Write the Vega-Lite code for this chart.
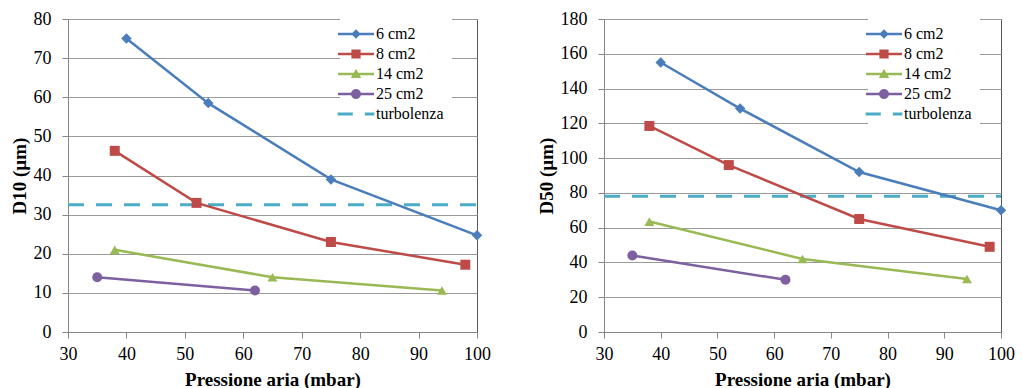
{
  "$schema": "https://vega.github.io/schema/vega-lite/v6.json",
  "background": "white",
  "padding": {"left": 9, "top": 9, "right": 5, "bottom": 0},
  "spacing": 45,
  "datasets": {
    "d10": [
      {"p": 40, "v": 75, "series": "6 cm2"},
      {"p": 54, "v": 58.5, "series": "6 cm2"},
      {"p": 75, "v": 39, "series": "6 cm2"},
      {"p": 100, "v": 24.7, "series": "6 cm2"},
      {"p": 38, "v": 46.3, "series": "8 cm2"},
      {"p": 52, "v": 33, "series": "8 cm2"},
      {"p": 75, "v": 23, "series": "8 cm2"},
      {"p": 98, "v": 17.2, "series": "8 cm2"},
      {"p": 38, "v": 21, "series": "14 cm2"},
      {"p": 65, "v": 14, "series": "14 cm2"},
      {"p": 94, "v": 10.6, "series": "14 cm2"},
      {"p": 35, "v": 14, "series": "25 cm2"},
      {"p": 62, "v": 10.6, "series": "25 cm2"}
    ],
    "d10t": [{"p": 30, "v": 32.5, "series": "turbolenza"}, {"p": 100, "v": 32.5, "series": "turbolenza"}],
    "d50": [
      {"p": 40, "v": 155, "series": "6 cm2"},
      {"p": 54, "v": 128.5, "series": "6 cm2"},
      {"p": 75, "v": 92, "series": "6 cm2"},
      {"p": 100, "v": 70, "series": "6 cm2"},
      {"p": 38, "v": 118.5, "series": "8 cm2"},
      {"p": 52, "v": 96, "series": "8 cm2"},
      {"p": 75, "v": 65, "series": "8 cm2"},
      {"p": 98, "v": 49, "series": "8 cm2"},
      {"p": 38, "v": 63.5, "series": "14 cm2"},
      {"p": 65, "v": 42, "series": "14 cm2"},
      {"p": 94, "v": 30.5, "series": "14 cm2"},
      {"p": 35, "v": 44, "series": "25 cm2"},
      {"p": 62, "v": 30, "series": "25 cm2"}
    ],
    "d50t": [{"p": 30, "v": 78, "series": "turbolenza"}, {"p": 100, "v": 78, "series": "turbolenza"}]
  },
  "config": {
    "font": "Liberation Serif",
    "view": {"stroke": "#595959", "strokeWidth": 1},
    "axis": {
      "labelFont": "Liberation Serif",
      "labelFontSize": 18,
      "labelColor": "#000000",
      "labelOverlap": false,
      "titleFont": "Liberation Serif",
      "titleFontSize": 19,
      "titleFontWeight": "bold",
      "titleColor": "#000000",
      "domainColor": "#868686",
      "tickColor": "#868686",
      "tickSize": 6,
      "gridColor": "#9a9a9a",
      "gridWidth": 1
    },
    "axisX": {"labelPadding": 7, "titlePadding": 7, "labelFlush": false},
    "axisY": {"labelPadding": 11, "titlePadding": 4},
    "legend": {
      "title": null,
      "orient": "none",
      "labelFont": "Liberation Serif",
      "labelFontSize": 16,
      "labelColor": "#000000",
      "symbolSize": 64,
      "symbolOpacity": 1,
      "labelOffset": 12,
      "rowPadding": 4,
      "padding": 8,
      "fillColor": "white",
      "symbolStrokeWidth": 0
    }
  },
  "resolve": {
    "scale": {"color": "independent", "shape": "independent"},
    "legend": {"color": "independent", "shape": "independent"}
  },
  "hconcat": [
    {
      "width": 409,
      "height": 313,
      "encoding": {
        "x": {"field": "p", "type": "quantitative", "scale": {"domain": [30, 100], "nice": false}, "axis": {"values": [30, 40, 50, 60, 70, 80, 90, 100], "title": "Pressione aria (mbar)", "grid": false}},
        "y": {"field": "v", "type": "quantitative", "scale": {"domain": [0, 80], "nice": false}, "axis": {"values": [0, 10, 20, 30, 40, 50, 60, 70, 80], "title": "D10 (µm)", "grid": true}}
      },
      "layer": [
        {
          "data": {"name": "d10"},
          "transform": [{"filter": "datum.p < 0"}],
          "mark": {"type": "point", "filled": true, "opacity": 1, "size": 64},
          "encoding": {
            "color": {"field": "series", "type": "nominal", "scale": {"domain": ["6 cm2", "8 cm2", "14 cm2", "25 cm2", "turbolenza"], "range": ["#4A7EBB", "#BE4B48", "#98B954", "#7D60A0", "#4BACC6"]}, "legend": {"legendX": 272, "legendY": -1}},
            "shape": {"field": "series", "type": "nominal", "scale": {"domain": ["6 cm2", "8 cm2", "14 cm2", "25 cm2", "turbolenza"], "range": ["M-4.5,-0.3H4.5V0.3H-4.5Z M0,-1.2L1.2,0L0,1.2L-1.2,0Z", "M-4.5,-0.3H4.5V0.3H-4.5Z M-1.15,-1.15H1.15V1.15H-1.15Z", "M-4.5,-0.3H4.5V0.3H-4.5Z M0,-1.3L1.3,1H-1.3Z", "M-4.5,-0.3H4.5V0.3H-4.5Z M1.25,0A1.25,1.25,0,1,1,-1.25,0A1.25,1.25,0,1,1,1.25,0Z", "M-4.6,-0.35H-0.8V0.35H-4.6Z M2.2,-0.35H4.6V0.35H2.2Z"]}, "legend": {"legendX": 272, "legendY": -1}}
          }
        },
        {"data": {"name": "d10t"}, "mark": {"type": "line", "strokeWidth": 3, "strokeDash": [16, 12]},
         "encoding": {"color": {"field": "series", "type": "nominal", "legend": null}}},
        {"data": {"name": "d10"}, "mark": {"type": "line", "strokeWidth": 2.5},
         "encoding": {"color": {"field": "series", "type": "nominal", "legend": null}}},
        {"data": {"name": "d10"}, "transform": [{"filter": "datum.series === '6 cm2'"}], "mark": {"type": "point", "shape": "diamond", "filled": true, "opacity": 1, "size": 110},
         "encoding": {"color": {"field": "series", "type": "nominal", "legend": null}}},
        {"data": {"name": "d10"}, "transform": [{"filter": "datum.series === '8 cm2'"}], "mark": {"type": "point", "shape": "square", "filled": true, "opacity": 1, "size": 100},
         "encoding": {"color": {"field": "series", "type": "nominal", "legend": null}}},
        {"data": {"name": "d10"}, "transform": [{"filter": "datum.series === '14 cm2'"}], "mark": {"type": "point", "shape": "triangle-up", "filled": true, "opacity": 1, "size": 100},
         "encoding": {"color": {"field": "series", "type": "nominal", "legend": null}}},
        {"data": {"name": "d10"}, "transform": [{"filter": "datum.series === '25 cm2'"}], "mark": {"type": "point", "shape": "circle", "filled": true, "opacity": 1, "size": 100},
         "encoding": {"color": {"field": "series", "type": "nominal", "legend": null}}}
      ]
    },
    {
      "width": 397,
      "height": 313,
      "encoding": {
        "x": {"field": "p", "type": "quantitative", "scale": {"domain": [30, 100], "nice": false}, "axis": {"values": [30, 40, 50, 60, 70, 80, 90, 100], "title": "Pressione aria (mbar)", "grid": false}},
        "y": {"field": "v", "type": "quantitative", "scale": {"domain": [0, 180], "nice": false}, "axis": {"values": [0, 20, 40, 60, 80, 100, 120, 140, 160, 180], "title": "D50 (µm)", "grid": true}}
      },
      "layer": [
        {
          "data": {"name": "d50"},
          "transform": [{"filter": "datum.p < 0"}],
          "mark": {"type": "point", "filled": true, "opacity": 1, "size": 64},
          "encoding": {
            "color": {"field": "series", "type": "nominal", "scale": {"domain": ["6 cm2", "8 cm2", "14 cm2", "25 cm2", "turbolenza"], "range": ["#4A7EBB", "#BE4B48", "#98B954", "#7D60A0", "#4BACC6"]}, "legend": {"legendX": 264, "legendY": -1}},
            "shape": {"field": "series", "type": "nominal", "scale": {"domain": ["6 cm2", "8 cm2", "14 cm2", "25 cm2", "turbolenza"], "range": ["M-4.5,-0.3H4.5V0.3H-4.5Z M0,-1.2L1.2,0L0,1.2L-1.2,0Z", "M-4.5,-0.3H4.5V0.3H-4.5Z M-1.15,-1.15H1.15V1.15H-1.15Z", "M-4.5,-0.3H4.5V0.3H-4.5Z M0,-1.3L1.3,1H-1.3Z", "M-4.5,-0.3H4.5V0.3H-4.5Z M1.25,0A1.25,1.25,0,1,1,-1.25,0A1.25,1.25,0,1,1,1.25,0Z", "M-4.6,-0.35H-0.8V0.35H-4.6Z M2.2,-0.35H4.6V0.35H2.2Z"]}, "legend": {"legendX": 264, "legendY": -1}}
          }
        },
        {"data": {"name": "d50t"}, "mark": {"type": "line", "strokeWidth": 3, "strokeDash": [16, 12]},
         "encoding": {"color": {"field": "series", "type": "nominal", "legend": null}}},
        {"data": {"name": "d50"}, "mark": {"type": "line", "strokeWidth": 2.5},
         "encoding": {"color": {"field": "series", "type": "nominal", "legend": null}}},
        {"data": {"name": "d50"}, "transform": [{"filter": "datum.series === '6 cm2'"}], "mark": {"type": "point", "shape": "diamond", "filled": true, "opacity": 1, "size": 110},
         "encoding": {"color": {"field": "series", "type": "nominal", "legend": null}}},
        {"data": {"name": "d50"}, "transform": [{"filter": "datum.series === '8 cm2'"}], "mark": {"type": "point", "shape": "square", "filled": true, "opacity": 1, "size": 100},
         "encoding": {"color": {"field": "series", "type": "nominal", "legend": null}}},
        {"data": {"name": "d50"}, "transform": [{"filter": "datum.series === '14 cm2'"}], "mark": {"type": "point", "shape": "triangle-up", "filled": true, "opacity": 1, "size": 100},
         "encoding": {"color": {"field": "series", "type": "nominal", "legend": null}}},
        {"data": {"name": "d50"}, "transform": [{"filter": "datum.series === '25 cm2'"}], "mark": {"type": "point", "shape": "circle", "filled": true, "opacity": 1, "size": 100},
         "encoding": {"color": {"field": "series", "type": "nominal", "legend": null}}}
      ]
    }
  ]
}
